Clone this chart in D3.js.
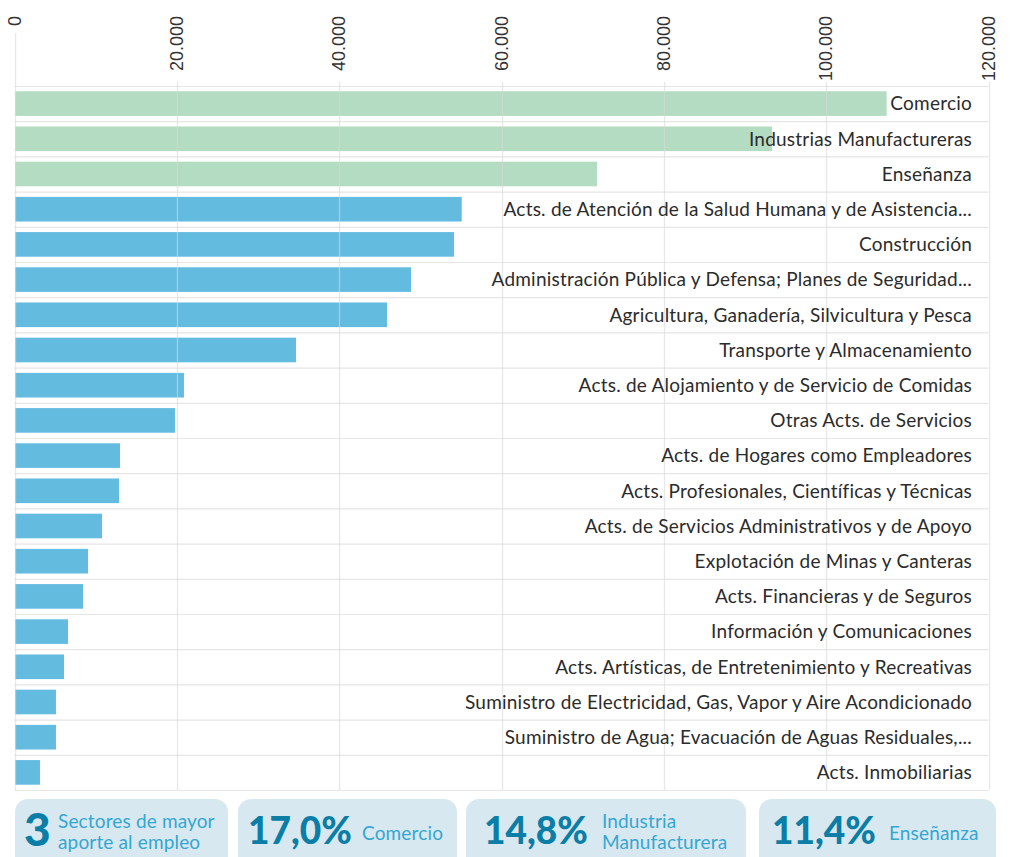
<!DOCTYPE html>
<html><head><meta charset="utf-8">
<script src="https://cdn.jsdelivr.net/npm/d3@7"></script>
<style>
body{margin:0;background:#fff;}
svg{display:block;}
</style></head>
<body>
<svg id="c" width="1015" height="857"></svg>
<script>
const categories = [
  "Comercio",
  "Industrias Manufactureras",
  "Enseñanza",
  "Acts. de Atención de la Salud Humana y de Asistencia...",
  "Construcción",
  "Administración Pública y Defensa; Planes de Seguridad...",
  "Agricultura, Ganadería, Silvicultura y Pesca",
  "Transporte y Almacenamiento",
  "Acts. de Alojamiento y de Servicio de Comidas",
  "Otras Acts. de Servicios",
  "Acts. de Hogares como Empleadores",
  "Acts. Profesionales, Científicas y Técnicas",
  "Acts. de Servicios Administrativos y de Apoyo",
  "Explotación de Minas y Canteras",
  "Acts. Financieras y de Seguros",
  "Información y Comunicaciones",
  "Acts. Artísticas, de Entretenimiento y Recreativas",
  "Suministro de Electricidad, Gas, Vapor y Aire Acondicionado",
  "Suministro de Agua; Evacuación de Aguas Residuales,...",
  "Acts. Inmobiliarias"
];
const values = [107450, 93330, 71770, 55100, 54150, 48850, 45890, 34680, 20880, 19770,
                13000, 12880, 10780, 9060, 8440, 6590, 6100, 5110, 5110, 3140];
const highlighted = [true, true, true, false, false, false, false, false, false, false,
                     false, false, false, false, false, false, false, false, false, false];
const tickValues = [0, 20000, 40000, 60000, 80000, 100000, 120000];
const tickLabels = ["0", "20.000", "40.000", "60.000", "80.000", "100.000", "120.000"];

const statNumbers = ["3", "17,0%", "14,8%", "11,4%"];
const statTexts = [["Sectores de mayor", "aporte al empleo"], ["Comercio"], ["Industria", "Manufacturera"], ["Enseñanza"]];

const svg = d3.select("#c");
const x = d3.scaleLinear().domain([0, 120000]).range([14.5, 988.5]);
const y = d3.scaleBand().domain(categories).range([86, 790]).paddingInner(0.3).paddingOuter(0.15);
const step = y.step();

// horizontal row lines
svg.append("g").selectAll("line").data(d3.range(categories.length + 1)).join("line")
  .attr("x1", x(0)).attr("x2", x(120000))
  .attr("y1", i => 86 + i * step + 0.5).attr("y2", i => 86 + i * step + 0.5)
  .attr("stroke", "#e6e6e6").attr("stroke-width", 1.2);

// bars
svg.append("g").selectAll("rect").data(categories).join("rect")
  .attr("x", x(0) + 0.5)
  .attr("y", d => y(d))
  .attr("width", (d, i) => x(values[i]) - x(0) - 0.5)
  .attr("height", y.bandwidth())
  .attr("fill", (d, i) => highlighted[i] ? "#b3dcc2" : "#63bce0");

// vertical grid lines (on top of bars, translucent)
svg.append("g").selectAll("line").data(tickValues).join("line")
  .attr("x1", d => Math.round(x(d)) + 0.5).attr("x2", d => Math.round(x(d)) + 0.5)
  .attr("y1", d => d === 0 ? 33 : 82).attr("y2", 790)
  .attr("stroke", "#d8d8d8").attr("stroke-opacity", 0.6).attr("stroke-width", 1.3);

// tick labels rotated
svg.append("g").selectAll("text").data(tickValues).join("text")
  .attr("transform", d => `translate(${x(d)},16) rotate(-90)`)
  .attr("text-anchor", "end").attr("dy", "0.35em")
  .attr("font-family", "'Liberation Sans', Arial, sans-serif").attr("font-size", 18)
  .attr("fill", "#333")
  .text((d, i) => tickLabels[i]);

// category labels
svg.append("g").selectAll("text").data(categories).join("text")
  .attr("x", x(120000) - 16.5)
  .attr("y", d => y(d) + y.bandwidth() / 2)
  .attr("dy", "0.36em")
  .attr("text-anchor", "end")
  .attr("font-family", "Lato, 'Noto Sans', sans-serif").attr("font-size", 19)
  .attr("letter-spacing", "0.22px")
  .attr("fill", "#2b2b2b")
  .text(d => d);

// stat boxes
const boxes = [
  {x0: 15, x1: 228}, {x0: 238, x1: 457}, {x0: 466, x1: 746}, {x0: 759, x1: 996}
];
const boxG = svg.append("g").selectAll("g").data(boxes).join("g");
boxG.append("rect")
  .attr("x", d => d.x0).attr("y", 799).attr("width", d => d.x1 - d.x0).attr("height", 80)
  .attr("rx", 13).attr("fill", "#d8e8f1");

const numSizes = [46, 37, 37, 37];
const numX = [24, 248, 484, 772];
const txtX = [58, 362, 602, 889];
boxG.append("text")
  .attr("x", (d, i) => numX[i]).attr("y", (d, i) => i === 0 ? 846 : 843.5)
  .attr("font-family", "Lato, sans-serif").attr("font-weight", 900)
  .attr("font-size", (d, i) => numSizes[i]).attr("fill", "#0a7ea6")
  .text((d, i) => statNumbers[i]);

boxG.each(function(d, i) {
  const g = d3.select(this);
  const lines = statTexts[i];
  const baselines = lines.length === 2 ? [828, 849] : [839.5];
  lines.forEach((t, j) => {
    g.append("text").attr("x", txtX[i]).attr("y", baselines[j])
      .attr("font-family", "Lato, sans-serif").attr("font-size", 19)
      .attr("letter-spacing", "0.15px")
      .attr("fill", "#33a7d2").text(t);
  });
});
</script>
</body></html>
